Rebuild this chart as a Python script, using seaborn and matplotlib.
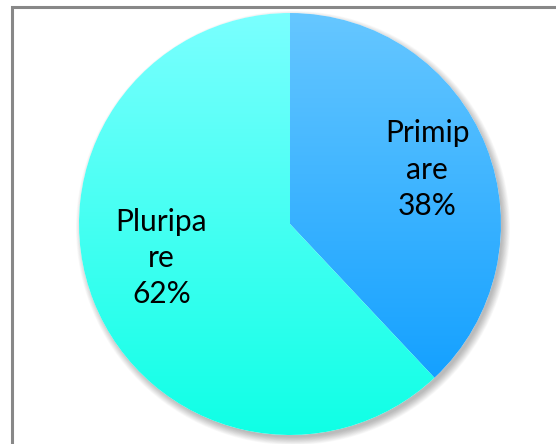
import numpy as np
import matplotlib
matplotlib.use("Agg")
import matplotlib.pyplot as plt
import seaborn as sns
from matplotlib.patches import Rectangle, Circle
from matplotlib.colors import LinearSegmentedColormap

categories = ["Primipare", "Pluripare"]
values = [38, 62]
label_texts = ["Primip\nare\n38%", "Pluripa\nre\n62%"]

sns.set_theme(style="white")
plt.rcParams['font.family'] = ['Lato', 'DejaVu Sans']

W, H = 556, 444
fig = plt.figure(figsize=(W / 100, H / 100), dpi=100)
fig.patch.set_facecolor("white")
ax = fig.add_axes([0, 0, 1, 1])

cx, cy, R = 290, H - 224, 211

wedges, texts = ax.pie(values, labels=label_texts, startangle=90, counterclock=False,
                       center=(cx, cy), radius=R, labeldistance=0.70,
                       wedgeprops=dict(linewidth=0, edgecolor="none"),
                       textprops=dict(fontsize=21.5, color="black", ha="center", va="center",
                                      linespacing=1.36))
ax.set_xlim(0, W)
ax.set_ylim(0, H)
ax.set_aspect("equal")
ax.axis("off")

# soft shadow
for i in range(12):
    s = Circle((cx + 3, cy - 4), R + 6 - i * 0.7, facecolor="black", alpha=0.025,
               edgecolor="none", zorder=0)
    ax.add_patch(s)
bg = Circle((cx, cy), R, facecolor="white", edgecolor="none", zorder=0.5)
ax.add_patch(bg)

grads = [((0.40, 0.78, 1.0), (0.08, 0.63, 1.0)),
         ((0.48, 1.0, 1.0), (0.06, 1.0, 0.90))]
for w, (top, bot) in zip(wedges, grads):
    w.set_facecolor("none")
    bb = w.get_path().get_extents(w.get_transform() - ax.transData)
    cmap = LinearSegmentedColormap.from_list("g", [bot, top])
    grad = np.linspace(0, 1, 256).reshape(-1, 1)
    im = ax.imshow(grad, cmap=cmap, extent=(bb.x0, bb.x1, bb.y0, bb.y1),
                   origin="lower", aspect="auto", zorder=1)
    im.set_clip_path(w)

# reposition labels
label_pos = [(0.70, 0.0), (0.63, -6.7)]
for t, w, (d, off) in zip(texts, wedges, label_pos):
    ang = np.deg2rad((w.theta1 + w.theta2) / 2 + off)
    t.set_position((cx + d * R * np.cos(ang), cy + d * R * np.sin(ang)))
    t.set_zorder(3)
    t.set_ha("center")
    t.set_va("center")

ax.set_xlim(0, W)
ax.set_ylim(0, H)

# outer frame
fig.patches.append(Rectangle((11.5, -10), 700, H - 6.5 + 10, transform=None,
                             fill=False, edgecolor="#888888", linewidth=2.2))

fig.savefig("out.png", dpi=100)
